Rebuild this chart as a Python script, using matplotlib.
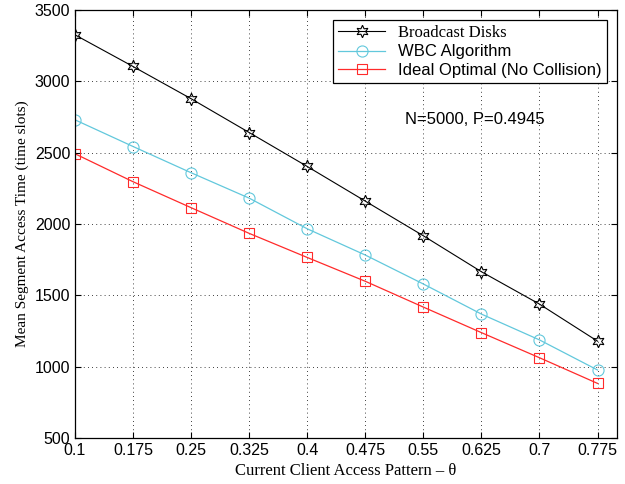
import matplotlib
matplotlib.use("Agg")
import matplotlib.pyplot as plt
import numpy as np

# client access pattern (theta)
theta = [0.1, 0.175, 0.25, 0.325, 0.4, 0.475, 0.55, 0.625, 0.7, 0.775]
tick_labels = ['0.1', '0.175', '0.25', '0.325', '0.4', '0.475', '0.55', '0.625', '0.7', '0.775']

# mean segment access time
broadcast_disks = [3327, 3105, 2879, 2642, 2404, 2161, 1918, 1666, 1439, 1179]
wbc_algorithm = [2731, 2544, 2360, 2182, 1967, 1783, 1580, 1369, 1188, 977]
ideal_optimal = [2493, 2297, 2115, 1935, 1766, 1599, 1418, 1239, 1063, 883]

sans = ['Liberation Sans', 'DejaVu Sans']
serif = ['Liberation Serif', 'DejaVu Serif']
plt.rcParams['font.family'] = sans

fig = plt.figure(figsize=(6.25, 4.84), dpi=100)
ax = fig.add_axes([0.12, 0.095, 0.867, 0.884])

ax.plot(theta, broadcast_disks, color='black', lw=0.8, marker=(6, 1, 0),
        markersize=9, markerfacecolor='none', markeredgewidth=0.8,
        label='Broadcast Disks')
ax.plot(theta, wbc_algorithm, color='#62c8dc', lw=0.9, marker='o',
        markersize=8, markerfacecolor='none', markeredgewidth=0.8,
        label='WBC Algorithm')
ax.plot(theta, ideal_optimal, color='#ff2a2a', lw=0.9, marker='s',
        markersize=7, markerfacecolor='none', markeredgewidth=0.8,
        label='Ideal Optimal (No Collision)')

ax.set_xlim(0.1, 0.8)
ax.set_ylim(500, 3500)
ax.set_xticks(theta)
ax.set_xticklabels(tick_labels)
ax.set_yticks(np.arange(500, 3501, 500))
ax.tick_params(direction='in', top=True, right=True, labelsize=11.5, length=4)
ax.grid(True, color='black', linestyle=(0, (1, 4)), lw=0.6)

ax.set_xlabel('Current Client Access Pattern \u2013 \u03b8', family=serif, fontsize=12)
ax.set_ylabel('Mean Segment Access Time (time slots)', family=serif, fontsize=11)

ax.text(0.617, 2731, 'N=5000, P=0.4945', ha='center', va='center', fontsize=12)

leg = ax.legend(loc='upper right', fontsize=12, fancybox=False, framealpha=1,
                edgecolor='black', borderaxespad=0.6, handlelength=2.8,
                borderpad=0.3, labelspacing=0.2)
leg.get_frame().set_linewidth(0.9)
leg.get_texts()[0].set_family(serif)

for s in ax.spines.values():
    s.set_linewidth(0.9)

fig.savefig('out.png', dpi=100)
